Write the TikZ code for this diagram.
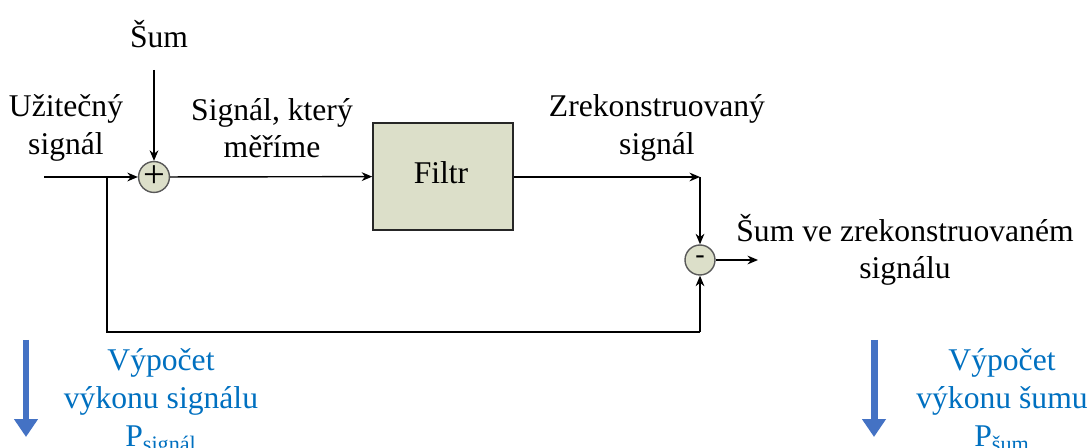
\documentclass[tikz,border=0pt]{standalone}
\usepackage{fontspec}
\setmainfont{Liberation Serif}
\usetikzlibrary{arrows.meta}
\definecolor{boxfill}{RGB}{220,223,201}
\definecolor{txtblue}{RGB}{0,112,192}
\definecolor{arrblue}{RGB}{68,114,196}
\begin{document}
\begin{tikzpicture}[x=0.02cm,y=-0.02cm,
  font=\fontsize{18}{21.4}\selectfont,
  lbl/.style={align=center, inner sep=0pt},
  bluelbl/.style={align=center, inner sep=0pt, text=txtblue},
  sig/.style={line width=0.8pt, -{Stealth[length=6pt,width=5pt]}},
  wire/.style={line width=0.8pt},
  sumnode/.style={circle, draw=black!65, line width=0.8pt, fill=boxfill, minimum size=0.6cm, inner sep=0pt},
  filterbox/.style={draw=black!85, line width=0.9pt, fill=boxfill, minimum width=2.8cm, minimum height=2.14cm, inner sep=0pt},
  bigarrow/.style={draw=arrblue, line width=0.14cm, -{Triangle[length=0.36cm,width=0.46cm]}}]
\useasboundingbox (0,0) rectangle (1091,448);

% blocks
\node[sumnode] (plus) at (154,177) {\fontsize{22}{22}\selectfont +};
\node[filterbox] (filtr) at (443,176.5) {};
\node[lbl] (filtrlbl) at (441,173) {Filtr};
\node[sumnode] (minus) at (700,260) {\fontsize{16}{16}\selectfont -};

% coordinates
\coordinate (in) at (44,177);
\coordinate (br) at (107,177);
\coordinate (noisetop) at (154,70);
\coordinate (corner) at (700,177);
\coordinate (bl) at (107,332);
\coordinate (brr) at (700,332);
\coordinate (out) at (758,260);

% connectors
\draw[sig] (in) -- (plus);
\draw[sig] (noisetop) -- (plus);
\draw[sig] (plus) -- (filtr);
\draw[sig] (filtr.east |- corner) -- (corner);
\draw[sig] (corner) -- (minus);
\draw[wire] (br) -- (bl) -- (brr);
\draw[sig] (brr) -- (minus);
\draw[sig] (minus) -- (out);

% labels
\node[lbl] (sumlbl) at (159,34) {Šum};
\node[lbl] (uzit) at (66,128) {Užitečný\\signál};
\node[lbl] (mer) at (272,128) {Signál, který\\měříme};
\node[lbl] (rek) at (657,128) {Zrekonstruovaný\\signál};
\node[lbl] (sumrek) at (905,250) {Šum ve zrekonstruovaném\\signálu};

% blue power calculations
\coordinate (la1) at (26,340);
\coordinate (la2) at (26,437);
\coordinate (ra1) at (874,340);
\coordinate (ra2) at (874,437);
\draw[bigarrow] (la1) -- (la2);
\draw[bigarrow] (ra1) -- (ra2);
\node[bluelbl, anchor=base] (v1) at (161,371) {Výpočet};
\node[bluelbl, anchor=base] (v2) at (161,409) {výkonu signálu};
\node[bluelbl, anchor=base] (v3) at (161,447) {P\textsubscript{signál}};
\node[bluelbl, anchor=base] (w1) at (1002,371) {Výpočet};
\node[bluelbl, anchor=base] (w2) at (1002,409) {výkonu šumu};
\node[bluelbl, anchor=base] (w3) at (1002,447) {P\textsubscript{šum}};
\end{tikzpicture}
\end{document}
